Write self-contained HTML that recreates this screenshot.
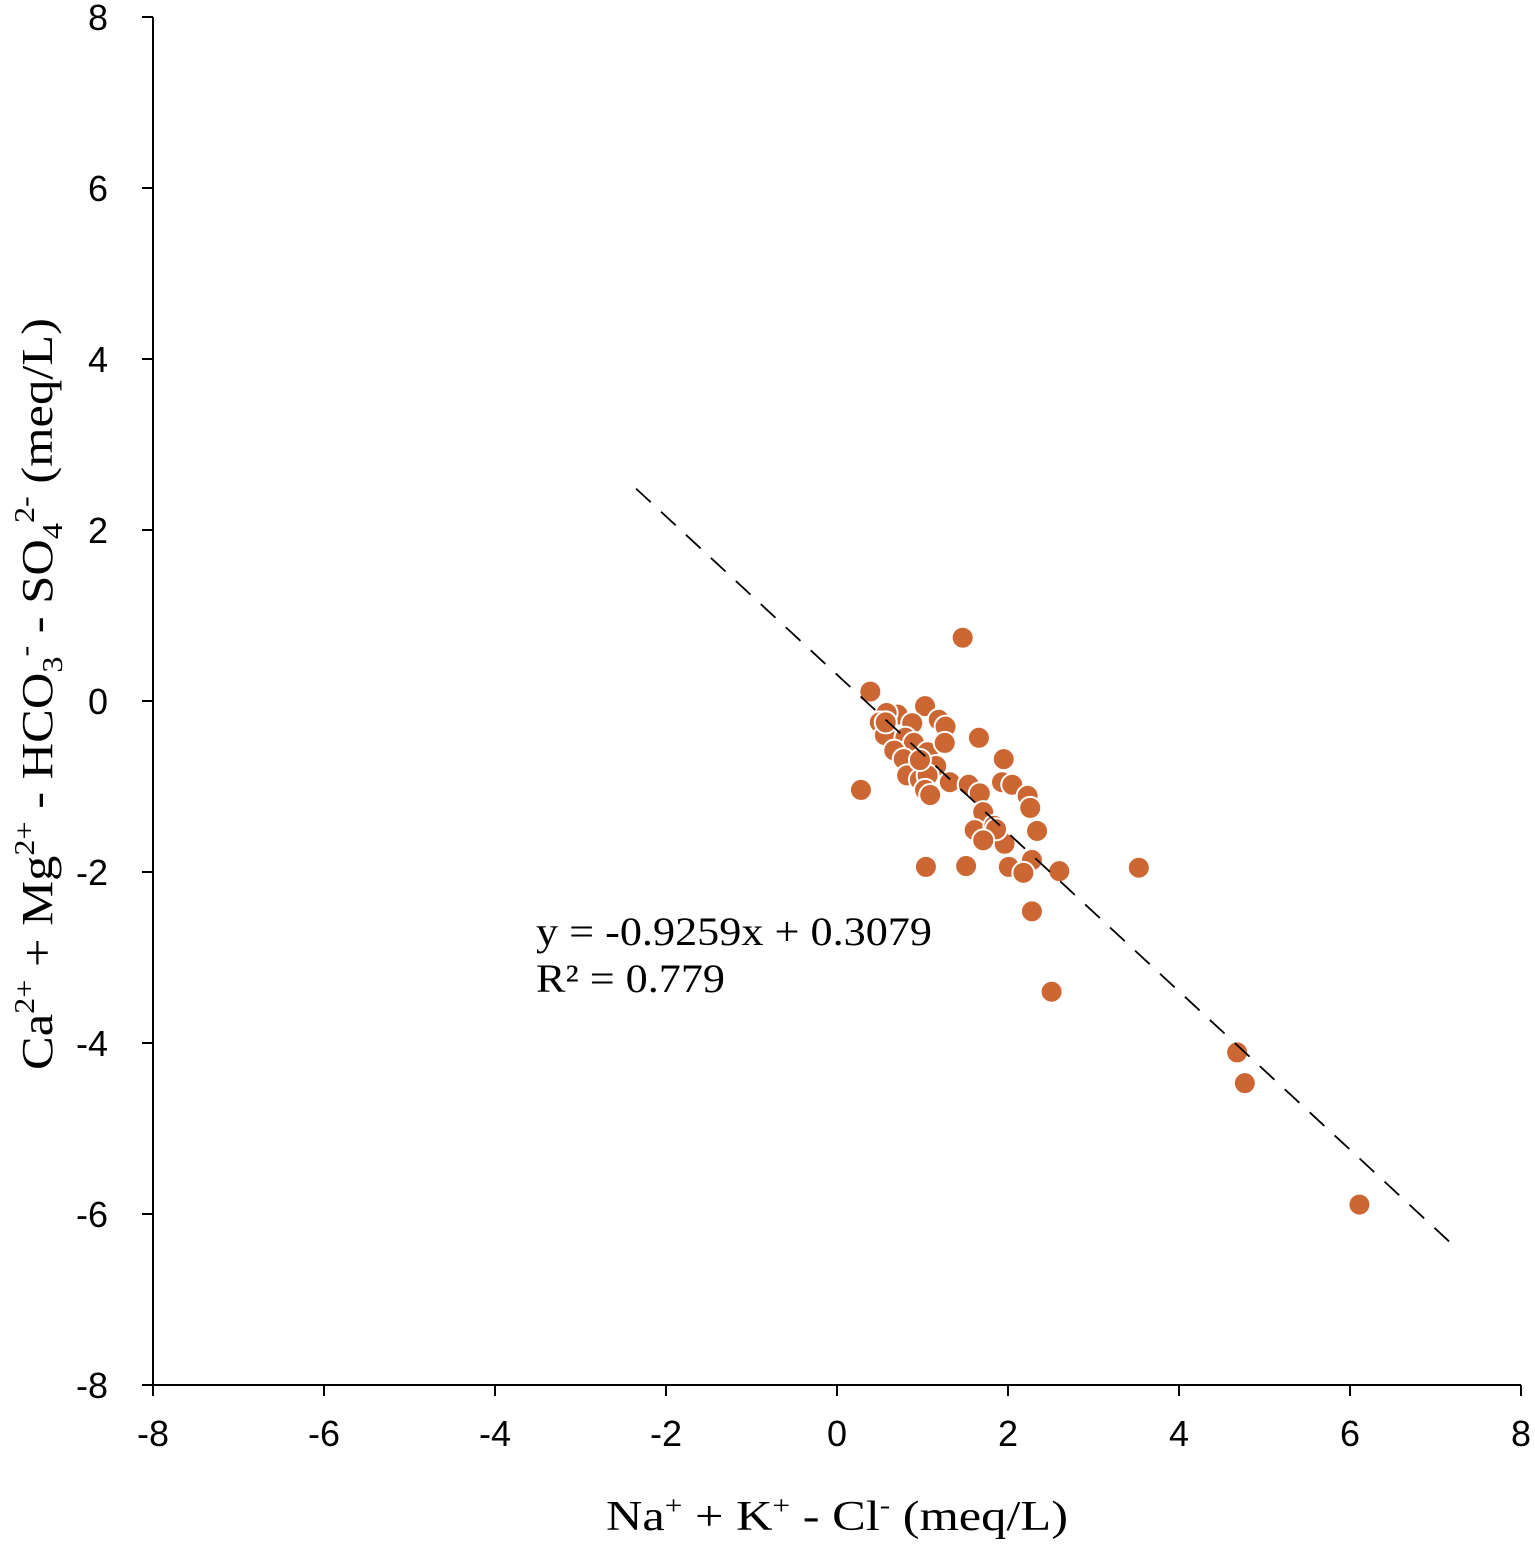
<!DOCTYPE html>
<html><head><meta charset="utf-8"><style>
html,body{margin:0;padding:0;background:#fff;}
svg{display:block;}
.tick{font-family:"Liberation Sans",sans-serif;font-size:36px;fill:#000;}
.serif{font-family:"Liberation Serif",serif;fill:#000;}
</style></head><body>
<svg id="chart" width="1535" height="1547" xmlns="http://www.w3.org/2000/svg">
<g id="axes"></g>
<g id="trend"></g>
<g id="points"></g>
<text class="serif" x="536" y="945" font-size="40" textLength="396" lengthAdjust="spacingAndGlyphs">y = -0.9259x + 0.3079</text>
<text class="serif" x="536" y="992" font-size="40" textLength="189" lengthAdjust="spacingAndGlyphs">R² = 0.779</text>
<text class="serif" x="606" y="1530" font-size="42" textLength="462" lengthAdjust="spacingAndGlyphs">Na<tspan font-size="26" dy="-16">+</tspan><tspan dy="16"> + K</tspan><tspan font-size="26" dy="-16">+</tspan><tspan dy="16"> - Cl</tspan><tspan font-size="26" dy="-16">-</tspan><tspan dy="16"> (meq/L)</tspan></text>
<text class="serif" transform="translate(52,1070) rotate(-90)" font-size="44" textLength="752" lengthAdjust="spacingAndGlyphs">Ca<tspan font-size="28" dy="-18">2+</tspan><tspan dy="18"> + Mg</tspan><tspan font-size="28" dy="-18">2+</tspan><tspan dy="18"> - HCO</tspan><tspan font-size="28" dy="10">3</tspan><tspan font-size="28" dy="-28">-</tspan><tspan dy="18"> - SO</tspan><tspan font-size="28" dy="10">4</tspan><tspan font-size="28" dy="-28">2-</tspan><tspan dy="18"> (meq/L)</tspan></text>
</svg>
<script>
const xTicks = [-8,-6,-4,-2,0,2,4,6,8];
const yTicks = [-8,-6,-4,-2,0,2,4,6,8];
const xValues = [0.39,0.28,1.47,1.03,0.71,0.58,0.50,0.56,0.88,1.19,1.27,0.80,0.90,0.67,0.78,1.06,1.16,0.82,0.97,1.06,1.03,1.09,1.32,1.26,1.66,1.95,1.54,1.93,2.05,2.23,2.26,1.67,1.71,1.61,1.84,2.34,1.96,1.86,2.01,2.28,2.18,2.60,1.04,1.51,2.28,2.51,3.53,4.68,4.77,6.11,0.57,1.71,0.97];
const yValues = [0.11,-1.04,0.74,-0.06,-0.16,-0.14,-0.25,-0.40,-0.26,-0.22,-0.30,-0.43,-0.49,-0.58,-0.68,-0.60,-0.76,-0.87,-0.92,-0.87,-1.04,-1.10,-0.95,-0.49,-0.43,-0.68,-0.98,-0.95,-0.98,-1.11,-1.25,-1.08,-1.30,-1.51,-1.46,-1.52,-1.67,-1.50,-1.94,-1.86,-2.01,-1.99,-1.94,-1.93,-2.46,-3.40,-1.95,-4.11,-4.47,-5.89,-0.25,-1.63,-0.69];
const slope = -0.9259;
const intercept = 0.3079;
const trendRange = [-2.35, 7.25];

const NS = "http://www.w3.org/2000/svg";
const X0 = 153, X1 = 1521, Y0 = 1385, Y1 = 17;
const sx = v => X0 + (v + 8) / 16 * (X1 - X0);
const sy = v => Y0 - (v + 8) / 16 * (Y0 - Y1);
function mk(tag, attrs, parent){const e=document.createElementNS(NS,tag);for(const k in attrs)e.setAttribute(k,attrs[k]);parent.appendChild(e);return e;}

const axes = document.getElementById('axes');
let l = mk('line',{x1:X0,y1:Y1,x2:X0,y2:Y0,stroke:'#000','stroke-width':2},axes);


l = mk('line',{x1:X0,y1:Y0,x2:X1,y2:Y0,stroke:'#000','stroke-width':2},axes);


xTicks.forEach(t=>{
  const tk = mk('line',{x1:sx(t),y1:Y0,x2:sx(t),y2:Y0+11,stroke:'#000','stroke-width':2},axes);
  
  
  const tx = mk('text',{x:sx(t),y:1446,'text-anchor':'middle',class:'tick'},axes);
  tx.textContent = t;
  
  
});
yTicks.forEach(t=>{
  const tk = mk('line',{x1:X0-11,y1:sy(t),x2:X0,y2:sy(t),stroke:'#000','stroke-width':2},axes);
  
  
  const tx = mk('text',{x:108,y:sy(t)+13,'text-anchor':'end',class:'tick'},axes);
  tx.textContent = t;
  
  
});

const pts = document.getElementById('points');
xValues.forEach((v,i)=>{
  const c = mk('circle',{cx:sx(v),cy:sy(yValues[i]),r:11,fill:'#cc6633',stroke:'#fff','stroke-width':2},pts);
  
  
});

const tr = document.getElementById('trend');
const tl = mk('line',{x1:sx(trendRange[0]),y1:sy(slope*trendRange[0]+intercept),x2:sx(trendRange[1]),y2:sy(slope*trendRange[1]+intercept),stroke:'#000','stroke-width':1.8,'stroke-dasharray':'20 14'},tr);


document.getElementById('chart').appendChild(tr);
</script>
</body></html>
